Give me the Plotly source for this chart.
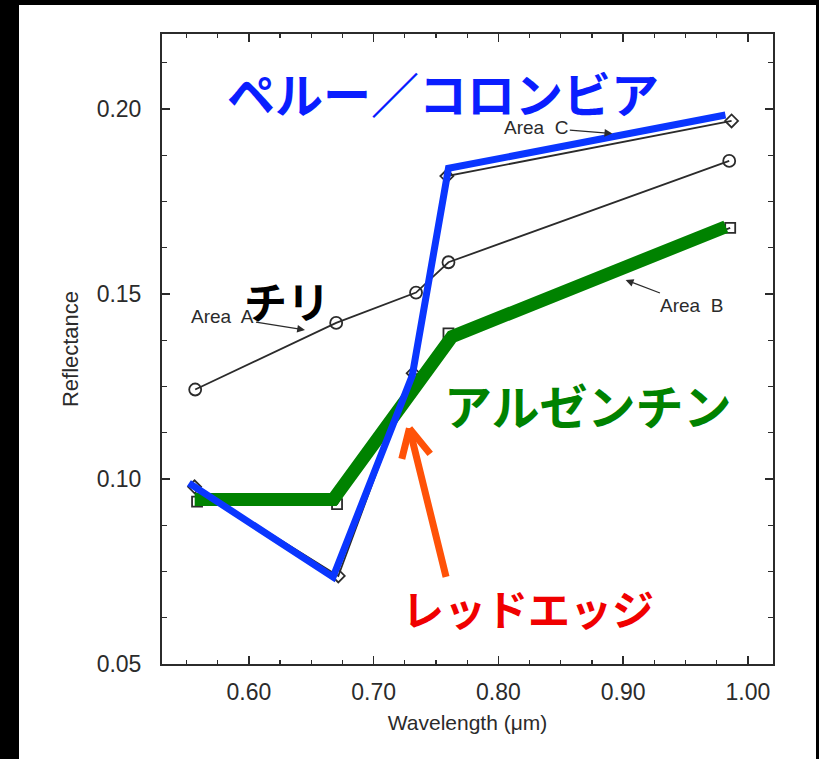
import plotly.graph_objects as go

# ---- data ----
area_a_x = [0.557, 0.670, 0.734, 0.760, 0.985]
area_a_y = [0.1242, 0.1422, 0.1504, 0.1586, 0.1860]

area_b_x = [0.5585, 0.6707, 0.733, 0.760, 0.9858]
area_b_y = [0.0939, 0.0932, 0.1270, 0.1394, 0.1679]

area_c_x = [0.5565, 0.6717, 0.7317, 0.7587, 0.9869]
area_c_y = [0.0979, 0.0738, 0.1286, 0.1819, 0.1968]

peru_x = [0.552, 0.6675, 0.731, 0.760, 0.982]
peru_y = [0.0989, 0.0735, 0.1280, 0.1840, 0.1984]

arg_x = [0.5566, 0.6677, 0.7628, 0.9823]
arg_y = [0.0945, 0.0945, 0.1385, 0.1682]

x_ticks = [0.60, 0.70, 0.80, 0.90, 1.00]
y_ticks = [0.05, 0.10, 0.15, 0.20]

INK = "#2b2b2b"
JP = "Noto Sans CJK JP"

fig = go.Figure()

fig.add_trace(go.Scatter(x=area_a_x, y=area_a_y, mode="lines+markers",
                         line=dict(color=INK, width=1.8),
                         marker=dict(symbol="circle-open", size=12, color=INK,
                                     line=dict(width=1.8, color=INK)),
                         showlegend=False))
fig.add_trace(go.Scatter(x=area_b_x, y=area_b_y, mode="lines+markers",
                         line=dict(color=INK, width=1.8),
                         marker=dict(symbol="square-open", size=10, color=INK,
                                     line=dict(width=1.8, color=INK)),
                         showlegend=False))
fig.add_trace(go.Scatter(x=area_c_x, y=area_c_y, mode="lines+markers",
                         line=dict(color=INK, width=1.8),
                         marker=dict(symbol="diamond-open", size=10, color=INK,
                                     line=dict(width=1.8, color=INK)),
                         showlegend=False))
fig.add_trace(go.Scatter(x=arg_x, y=arg_y, mode="lines",
                         line=dict(color="#008200", width=13),
                         showlegend=False))
fig.add_trace(go.Scatter(x=peru_x, y=peru_y, mode="lines",
                         line=dict(color="#0A36FF", width=7),
                         showlegend=False))

# white page on black surround
fig.add_shape(type="rect", xref="paper", yref="paper",
              x0=(19 - 162) / 611, x1=(816 - 162) / 611,
              y0=-95 / 630 - 0.01, y1=1 + 29 / 630,
              fillcolor="white", line=dict(width=0), layer="below")

small = dict(family="Liberation Sans, Arial", size=19, color=INK)
fig.add_annotation(x=0.8913, y=0.1934, ax=-76, ay=-6, text="Area  C",
                   font=small, showarrow=True, arrowhead=2, arrowsize=1.2,
                   arrowwidth=1.3, arrowcolor=INK)
fig.add_annotation(x=0.902, y=0.1538, ax=66, ay=25, text="Area  B",
                   font=small, showarrow=True, arrowhead=2, arrowsize=1.2,
                   arrowwidth=1.3, arrowcolor=INK)
fig.add_annotation(x=0.645, y=0.1403, ax=-82, ay=-13, text="Area  A",
                   font=small, showarrow=True, arrowhead=2, arrowsize=1.2,
                   arrowwidth=1.3, arrowcolor=INK)

# Japanese labels
fig.add_annotation(x=0.7558, y=0.2045, text="<b>ペルー／コロンビア</b>", showarrow=False,
                   font=dict(family=JP, size=48, color="#0A1EFF", weight=900))
fig.add_annotation(x=0.6305, y=0.1484, text="<b>チリ</b>", showarrow=False,
                   font=dict(family=JP, size=43, color="black", weight=900))
fig.add_annotation(x=0.8719, y=0.1203, text="<b>アルゼンチン</b>", showarrow=False,
                   font=dict(family=JP, size=48, color="#008200", weight=900))
fig.add_annotation(x=0.8241, y=0.0654, text="<b>レッドエッジ</b>", showarrow=False,
                   font=dict(family=JP, size=42, color="#F00000", weight=900))

# orange arrow (shaft + chevron head)
ORANGE = "#FF5208"
tip_x, tip_y = 0.7287, 0.1137
for ax_, ay_ in [(37, 150), (-8, 32), (22, 27)]:
    fig.add_annotation(x=tip_x, y=tip_y, ax=ax_, ay=ay_, text="",
                       showarrow=True, arrowhead=0, arrowwidth=7,
                       arrowcolor=ORANGE, standoff=0, startstandoff=0)

axis_common = dict(showline=True, linecolor=INK, linewidth=2, mirror="ticks",
                   ticks="inside", ticklen=8, tickwidth=1.5, tickcolor=INK,
                   showgrid=False, zeroline=False, tickformat=".2f",
                   tickfont=dict(family="Liberation Sans, Arial", size=23, color=INK))

fig.update_xaxes(range=[0.5304, 1.0201], tickvals=x_ticks,
                 minor=dict(dtick=0.025, tick0=0.5, ticks="inside", ticklen=4,
                            tickwidth=1.2, tickcolor=INK, showgrid=False),
                 title=dict(text="Wavelength (μm)", standoff=12,
                            font=dict(family="Liberation Sans, Arial", size=21, color=INK)),
                 ticklabelstandoff=6,
                 **axis_common)
fig.update_yaxes(range=[0.05, 0.2203], tickvals=y_ticks,
                 minor=dict(dtick=0.0125, tick0=0.05, ticks="inside", ticklen=5,
                            tickwidth=1.2, tickcolor=INK, showgrid=False),
                 title=dict(text="Reflectance", standoff=12,
                            font=dict(family="Liberation Sans, Arial", size=22, color=INK)),
                 ticklabelstandoff=14,
                 **axis_common)

fig.update_layout(width=819, height=759,
                  margin=dict(l=162, r=46, t=34, b=95),
                  paper_bgcolor="black", plot_bgcolor="white",
                  showlegend=False, hovermode=False)

fig.write_html("out.html", config={"displayModeBar": False, "staticPlot": True},
               post_script="document.body.style.margin='0';document.body.style.background='black';")
